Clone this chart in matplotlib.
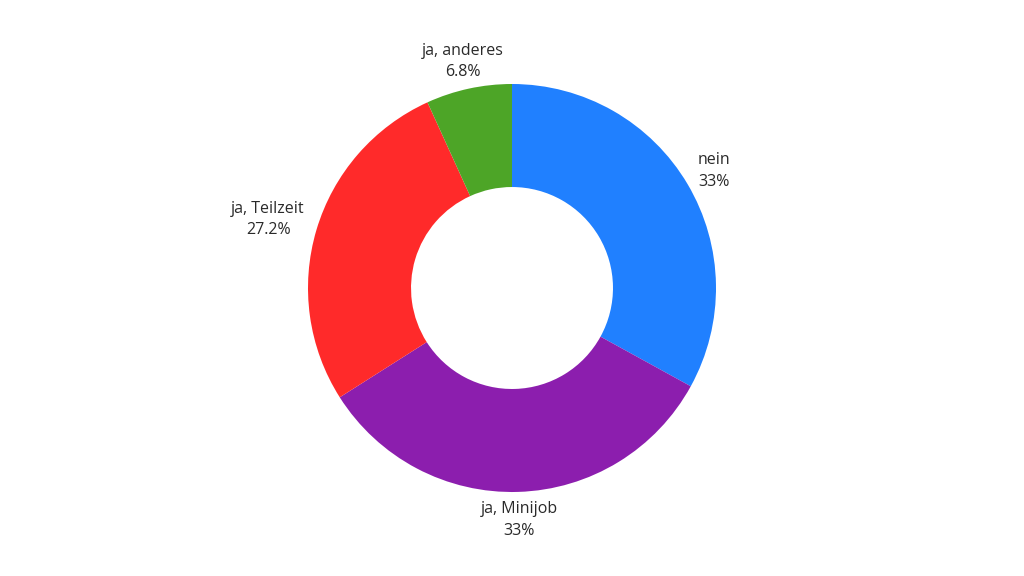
import numpy as np
import matplotlib.pyplot as plt

# --- data ---
labels = ['nein', 'ja, Minijob', 'ja, Teilzeit', 'ja, anderes']
werte = [33.0, 33.0, 27.2, 6.8]
prozent = ['33%', '33%', '27.2%', '6.8%']
farben = ['#2080FF', '#8C1EAE', '#FF2A2A', '#4DA527']

plt.rcParams['font.family'] = ['Open Sans', 'DejaVu Sans']

fig = plt.figure(figsize=(10.24, 5.76), dpi=100)
ax = fig.add_axes([0, 0, 1, 1])

mitte = (512, 288)
radius = 204
wedges, _ = ax.pie(werte, colors=farben, startangle=90, counterclock=False,
                   center=mitte, radius=radius, frame=True,
                   wedgeprops=dict(width=radius * 0.505, linewidth=0))
ax.set_xlim(0, 1024)
ax.set_ylim(0, 576)
ax.axis('off')

# Beschriftung ausserhalb des Rings
for w, lab, p in zip(wedges, labels, prozent):
    ang = np.deg2rad((w.theta1 + w.theta2) / 2)
    c, s = np.cos(ang), np.sin(ang)
    if abs(c) > 0.5:
        r = radius + 12
        dy = 7
    else:
        r = radius + 28
        dy = 0
    x = mitte[0] + r * c
    y = mitte[1] + r * s + dy
    if abs(c) < 0.3:
        ha = 'center'
    elif c > 0:
        ha = 'left'
    else:
        ha = 'right'
    ax.text(x, y, lab + '\n' + p, ha=ha, va='center', multialignment='center',
            fontsize=11.5, color='#2a2a2a', linespacing=1.45)

fig.savefig('out.png', dpi=100)
